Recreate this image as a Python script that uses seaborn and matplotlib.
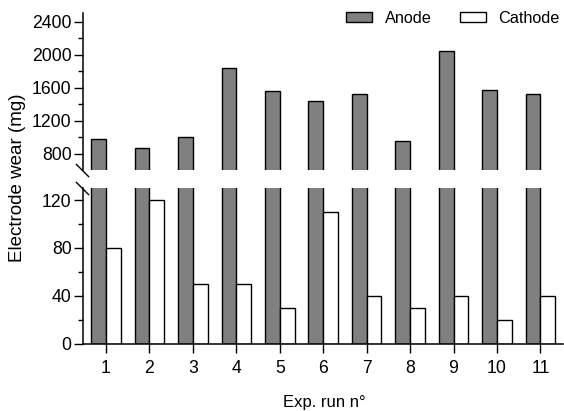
import numpy as np
import pandas as pd
import matplotlib
matplotlib.use('Agg')
import matplotlib.pyplot as plt
import seaborn as sns

# Dữ liệu
runs = ['1', '2', '3', '4', '5', '6', '7', '8', '9', '10', '11']
anode = [980, 870, 1000, 1840, 1560, 1440, 1520, 960, 2050, 1570, 1520]
cathode = [80, 120, 50, 50, 30, 110, 40, 30, 40, 20, 40]
series = ['Anode', 'Cathode']
colors = ['#808080', '#ffffff']

df = pd.DataFrame({
    'run': runs * 2,
    'wear': anode + cathode,
    'electrode': [series[0]] * len(runs) + [series[1]] * len(runs),
})

sns.set_style('ticks')
plt.rcParams['font.family'] = ['Liberation Sans', 'DejaVu Sans']
plt.rcParams.update({
    'text.color': 'black', 'axes.labelcolor': 'black',
    'xtick.color': 'black', 'ytick.color': 'black',
    'axes.edgecolor': 'black',
})

fig = plt.figure(figsize=(5.64, 4.11), dpi=100)
ax_top = fig.add_axes([0.1472, 0.5856, 0.851, 0.3818])
ax_bot = fig.add_axes([0.1472, 0.1637, 0.851, 0.3788])

for ax in (ax_top, ax_bot):
    sns.barplot(data=df, x='run', y='wear', hue='electrode', order=runs,
                hue_order=series, palette=colors, width=0.68,
                edgecolor='black', linewidth=1, saturation=1, ax=ax)
    ax.set_xlim(-0.53, 10.52)
    ax.set_xlabel('')
    ax.set_ylabel('')
    if ax.get_legend() is not None:
        ax.get_legend().remove()
    for s in ('top', 'right'):
        ax.spines[s].set_visible(False)
    ax.spines['left'].set_linewidth(1.1)
    ax.spines['bottom'].set_linewidth(1.1)
    ax.tick_params(axis='y', which='major', length=6.7, width=1, pad=1.5,
                   labelsize=12.7, color='black', labelcolor='black')
    ax.tick_params(axis='y', which='minor', length=3.8, width=1, color='black')

# Trục trên
ax_top.set_ylim(600, 2500)
ax_top.set_yticks([800, 1200, 1600, 2000, 2400])
ax_top.set_yticks([1000, 1400, 1800, 2200], minor=True)
ax_top.spines['bottom'].set_visible(False)
ax_top.tick_params(axis='x', which='both', bottom=False, labelbottom=False)

# Trục dưới
ax_bot.set_ylim(0, 130)
ax_bot.set_yticks([0, 40, 80, 120])
ax_bot.set_yticks([20, 60, 100], minor=True)
ax_bot.set_xticks(range(len(runs)))
ax_bot.set_xticklabels(runs)
ax_bot.tick_params(axis='x', which='major', length=6.5, width=1, pad=5,
                   labelsize=12.7, color='black', labelcolor='black')

# Dấu ngắt trục
kw = dict(marker=[(-1, 1), (1, -1)], markersize=9.5, linestyle='none',
          color='black', mec='black', mew=1, clip_on=False)
ax_top.plot([-0.003], [0], transform=ax_top.transAxes, **kw)
ax_bot.plot([-0.003], [1], transform=ax_bot.transAxes, **kw)

# Nhãn
fig.text(0.031, 0.568, 'Electrode wear (mg)', rotation=90,
         ha='center', va='center', fontsize=13.5, color='black')
fig.text(0.575, 0.02, 'Exp. run n°', ha='center', va='center',
         fontsize=12, color='black')

handles = [plt.Rectangle((0, 0), 1, 1, facecolor=c, edgecolor='black', linewidth=1)
           for c in colors]
fig.legend(handles, series, ncol=2, frameon=False, fontsize=11.7,
           loc='center right', bbox_to_anchor=(1.01, 0.956),
           handlelength=1.6, handleheight=0.55, handletextpad=0.8,
           columnspacing=1.7, borderaxespad=0.2)

fig.savefig('out.png', dpi=100)
plt.close(fig)
